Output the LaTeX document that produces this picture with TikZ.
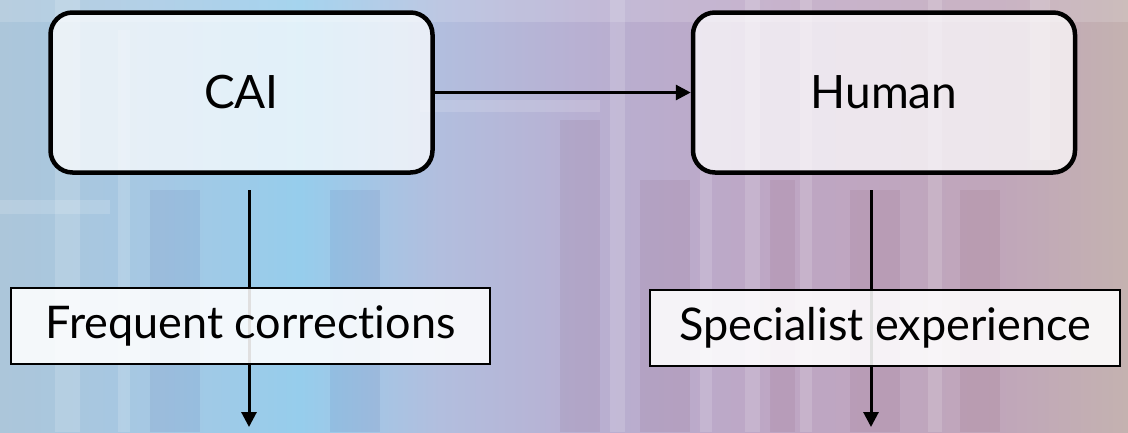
\documentclass[tikz,border=0pt]{standalone}
\usepackage{fontspec}
\setmainfont{Lato}[Ligatures=NoCommon]
\usetikzlibrary{arrows.meta}
\begin{document}
\begin{tikzpicture}[x=1pt,y=-1pt,
  bigbox/.style={draw=black,line width=4.5pt,rounded corners=22pt,fill=white,fill opacity=0.72,text opacity=1,
    minimum width=382pt,minimum height=160pt,inner sep=0pt,font=\fontsize{46}{50}\selectfont},
  notebox/.style={draw=black,line width=2pt,fill=white,fill opacity=0.88,text opacity=1,
    inner sep=0pt,font=\fontsize{45}{50}\selectfont},
  flow/.style={line width=3pt,-{Triangle[length=15pt,width=15pt]}}]
\useasboundingbox (0,0) rectangle (1128,432);
% backdrop: blurred shelf of book spines
\shade[left color={rgb,255:red,172;green,198;blue,218},right color={rgb,255:red,165;green,200;blue,228}] (0,0) rectangle (160,432);
\shade[left color={rgb,255:red,165;green,200;blue,228},right color={rgb,255:red,150;green,205;blue,236}] (160,0) rectangle (300,432);
\shade[left color={rgb,255:red,150;green,205;blue,236},right color={rgb,255:red,178;green,190;blue,222}] (300,0) rectangle (440,432);
\shade[left color={rgb,255:red,178;green,190;blue,222},right color={rgb,255:red,184;green,176;blue,210}] (440,0) rectangle (580,432);
\shade[left color={rgb,255:red,184;green,176;blue,210},right color={rgb,255:red,190;green,166;blue,196}] (580,0) rectangle (780,432);
\shade[left color={rgb,255:red,190;green,166;blue,196},right color={rgb,255:red,192;green,166;blue,186}] (780,0) rectangle (1000,432);
\shade[left color={rgb,255:red,192;green,166;blue,186},right color={rgb,255:red,196;green,178;blue,176}] (1000,0) rectangle (1128,432);
% spine highlights and shadows
\begin{scope}[fill opacity=0.15]
  \fill[white] (55,0) rectangle (80,432);
  \fill[white] (118,30) rectangle (130,432);
  \fill[white] (610,0) rectangle (625,432);
  \fill[white] (700,170) rectangle (712,432);
  \fill[white] (745,0) rectangle (760,432);
  \fill[white] (800,0) rectangle (812,432);
  \fill[white] (928,0) rectangle (942,432);
  \fill[white] (1030,0) rectangle (1050,160);
  \fill[white] (0,0) rectangle (1128,22);
  \fill[white] (0,200) rectangle (110,214);
  \fill[white] (420,100) rectangle (600,112);
\end{scope}
\begin{scope}[fill opacity=0.06]
  \fill[black!60!blue] (150,190) rectangle (200,432);
  \fill[black!60!blue] (330,190) rectangle (380,432);
  \fill[black!60!purple] (560,120) rectangle (600,432);
  \fill[black!60!purple] (640,180) rectangle (690,432);
  \fill[black!60!purple] (770,180) rectangle (795,432);
  \fill[black!60!purple] (850,190) rectangle (900,432);
  \fill[black!60!purple] (960,190) rectangle (1000,432);
\end{scope}
% process boxes
\node[bigbox] (cai) at (241.5,92.5) {CAI};
\node[bigbox] (human) at (884,92.5) {Human};
\draw[flow] (cai.east) -- (human.west);
% outgoing branches
\coordinate (caiOut) at (249,190);
\coordinate (caiEnd) at (249,427);
\coordinate (humOut) at (871,190);
\coordinate (humEnd) at (871,427);
\draw[flow] (caiOut) -- (caiEnd);
\draw[flow] (humOut) -- (humEnd);
% labels laid over the branches
\node[notebox,minimum width=479pt,minimum height=76pt] (freq) at (250.5,326) {Frequent corrections};
\node[notebox,minimum width=470pt,minimum height=76pt] (spec) at (885,328) {Specialist experience};
\end{tikzpicture}
\end{document}
